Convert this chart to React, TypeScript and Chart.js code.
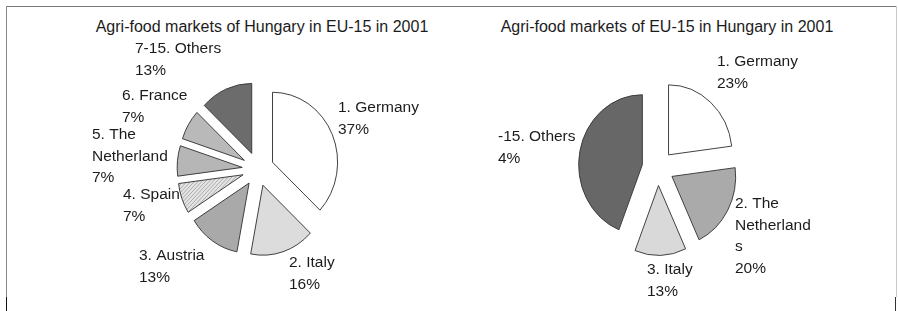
import React, { useEffect, useRef } from 'react';
import { Chart, registerables } from 'chart.js';

Chart.register(...registerables);

// ---------- data ----------
const leftTitle = 'Agri-food markets of Hungary in EU-15 in 2001';
const rightTitle = 'Agri-food markets of EU-15 in Hungary in 2001';

const leftCategories = ['1. Germany', '2. Italy', '3. Austria', '4. Spain', '5. The Netherland', '6. France', '7-15. Others'];
const leftValues = [37, 16, 13, 7, 7, 7, 13];
const leftNameLines = [['1. Germany'], ['2. Italy'], ['3. Austria'], ['4. Spain'], ['5. The', 'Netherland'], ['6. France'], ['7-15. Others']];
const leftValueLabels = ['37%', '16%', '13%', '7%', '7%', '7%', '13%'];

const rightCategories = ['1. Germany', '2. The Netherlands', '3. Italy', '4-15. Others'];
const rightValues = [23, 20, 13, 44];
const rightNameLines = [['1. Germany'], ['2. The', 'Netherland', 's'], ['3. Italy'], ['-15. Others']];
const rightValueLabels = ['23%', '20%', '13%', '4%'];

// ---------- styles / layout ----------
const FONT = '"Liberation Sans", Arial, Helvetica, sans-serif';
const BORDER = '#3a3a3a';

const leftAnchors: [number, number][] = [[80, -61], [31, 94], [-119, 87], [-135, 26], [-166, -34], [-136, -73], [-123, -120]];
const rightAnchors: [number, number][] = [[59, -106], [77, 36], [-11, 102], [-160, -31]];

function makeHatch(): CanvasPattern | string {
  const c = document.createElement('canvas');
  c.width = 4;
  c.height = 4;
  const g = c.getContext('2d');
  if (!g) return '#d8d8d8';
  g.fillStyle = '#e4e4e4';
  g.fillRect(0, 0, 4, 4);
  g.strokeStyle = '#a9a9a9';
  g.lineWidth = 1;
  g.beginPath();
  g.moveTo(0, 4);
  g.lineTo(4, 0);
  g.stroke();
  return g.createPattern(c, 'repeat') || '#d8d8d8';
}

function explodePlugin(distance: number) {
  return {
    id: 'explode',
    afterDatasetUpdate(_chart: any, args: any) {
      args.meta.data.forEach((el: any) => {
        const mid = (el.startAngle + el.endAngle) / 2;
        el.x += Math.cos(mid) * distance;
        el.y += Math.sin(mid) * distance;
      });
    },
  };
}

// the original pies are drawn slightly narrower than tall
function aspectPlugin(scaleX: number) {
  return {
    id: 'aspect',
    beforeDatasetsDraw(chart: any) {
      const { ctx, chartArea } = chart;
      const cx = (chartArea.left + chartArea.right) / 2;
      ctx.save();
      ctx.translate(cx, 0);
      ctx.scale(scaleX, 1);
      ctx.translate(-cx, 0);
    },
    afterDatasetsDraw(chart: any) {
      chart.ctx.restore();
    },
  };
}

function labelPlugin(lines: string[][], anchors: [number, number][], lineHeight: number) {
  return {
    id: 'sliceLabels',
    afterDraw(chart: any) {
      const { ctx, chartArea } = chart;
      const cx = (chartArea.left + chartArea.right) / 2;
      const cy = (chartArea.top + chartArea.bottom) / 2;
      ctx.save();
      ctx.font = `15.5px ${FONT}`;
      ctx.fillStyle = '#1c1c1c';
      ctx.textAlign = 'left';
      ctx.textBaseline = 'middle';
      lines.forEach((ls, i) => {
        const [dx, dy] = anchors[i];
        ls.forEach((t, j) => ctx.fillText(t, cx + dx, cy + dy + j * lineHeight));
      });
      ctx.restore();
    },
  };
}

type PieProps = {
  categories: string[];
  values: number[];
  colors: (string | CanvasPattern)[];
  radius: number;
  explode: number;
  scaleX: number;
  lines: string[][];
  anchors: [number, number][];
  left: number;
  top: number;
  width: number;
  height: number;
};

function Pie(p: PieProps) {
  const ref = useRef<HTMLCanvasElement>(null);
  useEffect(() => {
    if (!ref.current) return;
    const chart = new Chart(ref.current, {
      type: 'pie',
      data: {
        labels: p.categories,
        datasets: [
          {
            data: p.values,
            backgroundColor: p.colors as any,
            borderColor: BORDER,
            borderWidth: 1,
            radius: p.radius,
          } as any,
        ],
      },
      options: {
        responsive: false,
        animation: false,
        devicePixelRatio: 1,
        layout: { padding: 0 },
        plugins: { legend: { display: false }, tooltip: { enabled: false }, title: { display: false } },
      },
      plugins: [explodePlugin(p.explode), aspectPlugin(p.scaleX), labelPlugin(p.lines, p.anchors, 21.5)],
    });
    return () => chart.destroy();
  }, []);
  return (
    <canvas
      ref={ref}
      width={p.width}
      height={p.height}
      style={{ position: 'absolute', left: p.left, top: p.top, width: p.width, height: p.height }}
    />
  );
}

export default function App() {
  const hatch = makeHatch();
  const leftLines = leftNameLines.map((n, i) => [...n, leftValueLabels[i]]);
  const rightLines = rightNameLines.map((n, i) => [...n, rightValueLabels[i]]);
  const titleStyle = (cx: number): React.CSSProperties => ({
    position: 'absolute',
    left: cx - 220,
    width: 440,
    top: 17,
    height: 20,
    lineHeight: '20px',
    textAlign: 'center',
    fontFamily: FONT,
    fontSize: 16,
    color: '#1c1c1c',
    whiteSpace: 'nowrap',
  });
  return (
    <div
      style={{
        position: 'fixed',
        left: 0,
        top: 0,
        width: 898,
        height: 311,
        overflow: 'hidden',
        background: '#ffffff',
      }}
    >
      {/* frame */}
      <div style={{ position: 'absolute', left: 6, top: 6, width: 891, height: 1, background: '#7a7a7a' }} />
      <div style={{ position: 'absolute', left: 6, top: 6, width: 1, height: 291, background: '#8a8a8a' }} />
      <div style={{ position: 'absolute', left: 6, top: 297, width: 1, height: 14, background: '#111' }} />
      <div style={{ position: 'absolute', left: 896, top: 6, width: 1, height: 291, background: '#c8c8c8' }} />
      <div style={{ position: 'absolute', left: 895, top: 297, width: 1, height: 14, background: '#333' }} />

      <div style={titleStyle(262)}>{leftTitle}</div>
      <div style={titleStyle(667)}>{rightTitle}</div>

      <Pie
        categories={leftCategories}
        values={leftValues}
        colors={['#ffffff', '#dcdcdc', '#a9a9a9', hatch, '#b6b6b6', '#b9b9b9', '#6c6c6c']}
        radius={70}
        explode={17}
        scaleX={0.93}
        lines={leftLines}
        anchors={leftAnchors}
        left={40}
        top={31}
        width={436}
        height={276}
      />
      <Pie
        categories={rightCategories}
        values={rightValues}
        colors={['#ffffff', '#aaaaaa', '#d9d9d9', '#676767']}
        radius={70}
        explode={17.5}
        scaleX={0.91}
        lines={rightLines}
        anchors={rightAnchors}
        left={478}
        top={30}
        width={360}
        height={276}
      />
    </div>
  );
}
